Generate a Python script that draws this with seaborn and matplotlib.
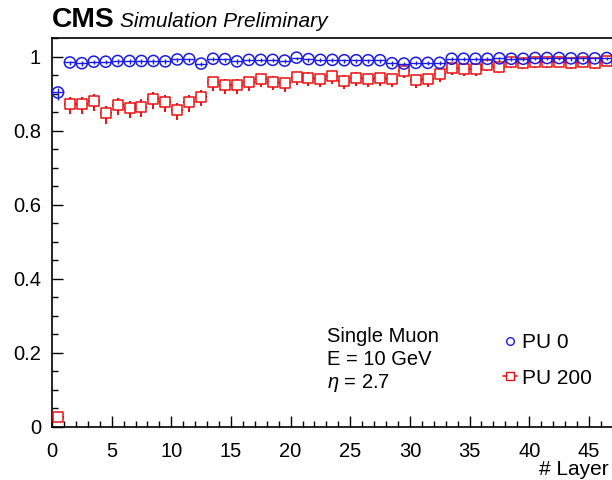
import matplotlib
matplotlib.use("Agg")
import matplotlib.pyplot as plt
from matplotlib.lines import Line2D
from matplotlib.ticker import MultipleLocator, FuncFormatter
import numpy as np
import pandas as pd
import seaborn as sns

# ---------------- data ----------------
layer_center = [0.5, 1.5, 2.5, 3.5, 4.5, 5.5, 6.5, 7.5, 8.5, 9.5,
                10.5, 11.5, 12.5, 13.5, 14.5, 15.5, 16.5, 17.5, 18.5, 19.5,
                20.5, 21.5, 22.5, 23.5, 24.5, 25.5, 26.5, 27.5, 28.5, 29.5,
                30.5, 31.5, 32.5, 33.5, 34.5, 35.5, 36.5, 37.5, 38.5, 39.5,
                40.5, 41.5, 42.5, 43.5, 44.5, 45.5, 46.5]

eff_pu0 = [0.903, 0.984, 0.982, 0.986, 0.986, 0.988, 0.988, 0.988, 0.988, 0.987,
           0.992, 0.993, 0.981, 0.994, 0.993, 0.987, 0.991, 0.991, 0.991, 0.989,
           0.997, 0.993, 0.991, 0.991, 0.990, 0.990, 0.990, 0.990, 0.982, 0.981,
           0.983, 0.983, 0.983, 0.994, 0.994, 0.994, 0.994, 0.995, 0.994, 0.994,
           0.996, 0.996, 0.996, 0.995, 0.995, 0.995, 0.996]

eff_pu200 = [0.028, 0.871, 0.871, 0.880, 0.847, 0.869, 0.862, 0.865, 0.885, 0.878,
             0.856, 0.878, 0.892, 0.930, 0.924, 0.924, 0.930, 0.939, 0.932, 0.928,
             0.944, 0.943, 0.940, 0.948, 0.935, 0.943, 0.939, 0.942, 0.939, 0.960,
             0.937, 0.939, 0.952, 0.969, 0.966, 0.966, 0.978, 0.973, 0.984, 0.982,
             0.984, 0.984, 0.986, 0.982, 0.986, 0.982, 0.989]

err_lo_pu0 = [0.020, 0.007, 0.007, 0.007, 0.007, 0.007, 0.007, 0.007, 0.007, 0.007,
              0.007, 0.007, 0.007, 0.007, 0.007, 0.007, 0.007, 0.007, 0.007, 0.007,
              0.006, 0.007, 0.007, 0.007, 0.007, 0.007, 0.007, 0.007, 0.007, 0.007,
              0.007, 0.007, 0.007, 0.006, 0.006, 0.006, 0.006, 0.006, 0.006, 0.006,
              0.006, 0.006, 0.006, 0.006, 0.006, 0.006, 0.006]
err_hi_pu0 = [0.012, 0.005, 0.005, 0.005, 0.005, 0.005, 0.005, 0.005, 0.005, 0.005,
              0.004, 0.004, 0.005, 0.004, 0.004, 0.005, 0.004, 0.004, 0.004, 0.004,
              0.003, 0.004, 0.004, 0.004, 0.004, 0.004, 0.004, 0.004, 0.005, 0.005,
              0.005, 0.005, 0.005, 0.004, 0.004, 0.004, 0.004, 0.003, 0.004, 0.004,
              0.003, 0.003, 0.003, 0.004, 0.004, 0.004, 0.003]

err_lo_pu200 = [0.008, 0.027, 0.027, 0.026, 0.028, 0.027, 0.027, 0.027, 0.026, 0.027,
                0.027, 0.027, 0.026, 0.023, 0.024, 0.024, 0.023, 0.022, 0.023, 0.023,
                0.022, 0.022, 0.022, 0.021, 0.022, 0.022, 0.022, 0.022, 0.022, 0.019,
                0.022, 0.022, 0.020, 0.018, 0.018, 0.018, 0.016, 0.017, 0.015, 0.015,
                0.015, 0.015, 0.014, 0.015, 0.014, 0.015, 0.013]
err_hi_pu200 = [0.010, 0.019, 0.019, 0.018, 0.020, 0.019, 0.019, 0.019, 0.018, 0.019,
                0.019, 0.019, 0.018, 0.015, 0.016, 0.016, 0.015, 0.014, 0.015, 0.015,
                0.014, 0.014, 0.014, 0.013, 0.014, 0.014, 0.014, 0.014, 0.014, 0.012,
                0.014, 0.014, 0.013, 0.011, 0.011, 0.011, 0.010, 0.010, 0.009, 0.009,
                0.009, 0.009, 0.008, 0.009, 0.008, 0.009, 0.008]

bin_half_width = [0.5] * len(layer_center)

series_labels = ["PU 0", "PU 200"]
text_lines = ["Single Muon", "E = 10 GeV", r"$\eta$ = 2.7"]

df = pd.DataFrame({
    "layer": layer_center,
    "pu0": eff_pu0,
    "pu200": eff_pu200,
})

# ---------------- style ----------------
sns.set_theme(style="ticks")
plt.rcParams["font.family"] = ["Liberation Sans", "DejaVu Sans"]
plt.rcParams["mathtext.fontset"] = "custom"
plt.rcParams["mathtext.it"] = "Liberation Sans:italic"
plt.rcParams["mathtext.rm"] = "Liberation Sans"

BLUE = "#1a1ae6"
RED = "#e81010"

W, H = 612, 480
fig = plt.figure(figsize=(W / 100, H / 100), dpi=100)
fig.patch.set_facecolor("white")

ax_left, ax_bottom = 52, 53
ax_w_px = 52 * 11.93
ax_h_px = 389
ax = fig.add_axes([ax_left / W, ax_bottom / H, ax_w_px / W, ax_h_px / H])
ax.set_facecolor("white")

# PU 200 (red squares)
ax.errorbar(df["layer"], df["pu200"], xerr=bin_half_width,
            yerr=[err_lo_pu200, err_hi_pu200], fmt="none",
            ecolor=RED, elinewidth=1.4, capsize=0, zorder=2)
sns.scatterplot(data=df, x="layer", y="pu200", marker="s", s=62,
                facecolor="white", edgecolor=RED, linewidth=1.1,
                zorder=3, ax=ax, legend=False)

# PU 0 (blue open circles)
ax.errorbar(df["layer"], df["pu0"], xerr=bin_half_width,
            yerr=[err_lo_pu0, err_hi_pu0], fmt="none",
            ecolor=BLUE, elinewidth=1.0, capsize=0, zorder=4)
sns.scatterplot(data=df, x="layer", y="pu0", marker="o", s=64,
                facecolor="none", edgecolor=BLUE, linewidth=1.1,
                zorder=5, ax=ax, legend=False)

ax.set_xlim(0, 52)
ax.set_ylim(0, 1.05)
ax.set_xlabel("")
ax.set_ylabel("")

ax.xaxis.set_major_locator(MultipleLocator(5))
ax.xaxis.set_minor_locator(MultipleLocator(1))
ax.yaxis.set_major_locator(MultipleLocator(0.2))
ax.yaxis.set_minor_locator(MultipleLocator(0.05))
ax.yaxis.set_major_formatter(FuncFormatter(lambda v, p: f"{v:g}"))
# labels beyond the visible (cropped) part of the axis are left empty
ax.xaxis.set_major_formatter(
    FuncFormatter(lambda v, p: f"{v:g}" if v <= 46 else ""))

ax.tick_params(axis="both", which="major", direction="in", length=8.2,
               width=1.0, color="black", labelsize=14.5, labelcolor="black")
ax.tick_params(axis="both", which="minor", direction="in", length=4.5,
               width=1.0, color="black")
ax.tick_params(axis="x", which="major", pad=10.5)
ax.tick_params(axis="y", which="major", pad=8)
ax.tick_params(top=False, right=False, which="both")
for sp in ax.spines.values():
    sp.set_visible(True)
    sp.set_color("black")
    sp.set_linewidth(1.2)

# ---------------- texts ----------------
def fx(px):
    return px / W

def fy(py):
    return 1 - py / H

fig.text(fx(52), fy(27), "CMS", fontsize=20.3, fontweight="bold",
         va="baseline", ha="left", color="black")
fig.text(fx(120), fy(27), "Simulation Preliminary", fontsize=15,
         fontstyle="italic", va="baseline", ha="left", color="black")

for t, base in zip(text_lines, [342, 365, 388]):
    fig.text(fx(327), fy(base), t, fontsize=14.5, va="baseline",
             ha="left", color="black")

fig.text(fx(609), fy(475), "# Layer", fontsize=15, va="baseline",
         ha="right", color="black")

handles = [
    Line2D([], [], marker="o", mfc="none", mec=BLUE, ms=5.5, mew=1.0,
           ls="none"),
    Line2D([], [], marker="s", mfc="white", mec=RED, ms=6, mew=1.0,
           color=RED, ls="-", lw=1.2),
]
leg = ax.legend(handles, series_labels, loc="upper left",
                bbox_to_anchor=(fx(503), fy(333)),
                bbox_transform=fig.transFigure, frameon=False,
                fontsize=15, handlelength=0.65, handletextpad=0.25,
                labelspacing=0.8, borderpad=0, borderaxespad=0)
for t in leg.get_texts():
    t.set_color("black")

fig.savefig("out.png", dpi=100, facecolor="white")
